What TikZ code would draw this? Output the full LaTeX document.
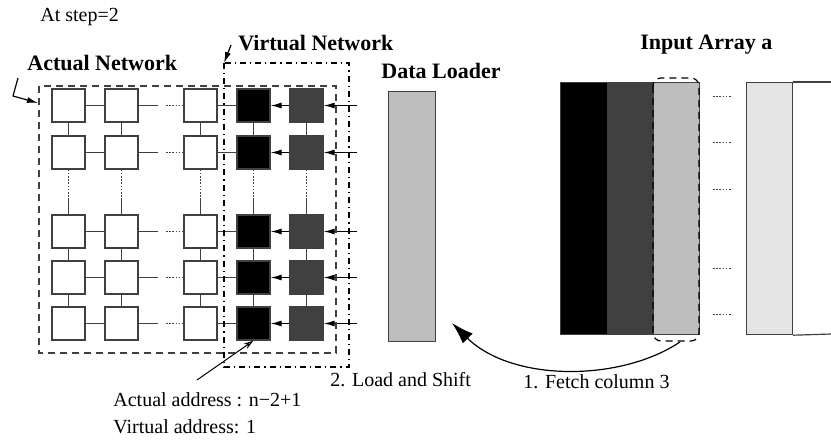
\documentclass[tikz,border=0pt]{standalone}
\usepackage{fontspec}
\setmainfont{Liberation Serif}
\usetikzlibrary{arrows.meta}
\definecolor{edge}{HTML}{404040}
\definecolor{dgray}{HTML}{404040}
\definecolor{mgray}{HTML}{BEBEBE}
\definecolor{lgray}{HTML}{E4E4E4}
\begin{document}
\begin{tikzpicture}[x=0.5pt,y=-0.5pt,
  cell/.style={draw=edge,line width=0.6pt,minimum size=16.5pt,inner sep=0pt},
  wcell/.style={cell,fill=white},
  bcell/.style={cell,fill=black},
  gcell/.style={cell,fill=dgray},
  link/.style={draw=edge,line width=0.6pt},
  dlink/.style={draw=edge,line width=0.5pt,dash pattern=on 0.8pt off 0.8pt},
  arr/.style={draw=black,line width=0.6pt,-{Latex[length=5.5pt,width=3pt]}},
  lbl/.style={anchor=west,inner sep=0pt,font=\fontsize{10}{12}\selectfont},
  blbl/.style={anchor=west,inner sep=0pt,font=\fontsize{11}{13}\selectfont\bfseries},
  colbox/.style={draw=edge,line width=0.6pt}
]
\useasboundingbox (0,0) rectangle (831,440);
% grid
\foreach \r/\y in {1/105.5,2/152.5,3/231.5,4/277.5,5/323.5}{
  \node[wcell] (s\r-1) at (68.5,\y) {};
  \node[wcell] (s\r-2) at (121.5,\y) {};
  \node[wcell] (s\r-3) at (200.5,\y) {};
  \node[bcell] (s\r-4) at (253.5,\y) {};
  \node[gcell] (s\r-5) at (306.5,\y) {};
  \coordinate (h\r a) at (158,\y);
  \coordinate (h\r b) at (166,\y);
  \coordinate (in\r) at (357,\y);
  \draw[link] (s\r-1) -- (s\r-2);
  \draw[link] (s\r-2.east) -- (h\r a);
  \draw[dlink] (h\r b) -- (s\r-3.west);
  \draw[link] (s\r-3) -- (s\r-4);
  \draw[arr] (s\r-5) -- (s\r-4);
  \draw[arr] (in\r) -- (s\r-5);
}
\foreach \c/\x in {1/68.5,2/121.5,3/200.5,4/253.5,5/306.5}{
  \coordinate (v\c) at (\x,200);
  \draw[link] (s1-\c) -- (s2-\c);
  \draw[dlink] (s2-\c.south) -- (v\c);
  \draw[link] (v\c) -- (s3-\c.north);
  \draw[link] (s3-\c) -- (s4-\c);
  \draw[link] (s4-\c) -- (s5-\c);
}
% network boxes
\draw[edge,line width=0.6pt,dash pattern=on 3.5pt off 2.5pt] (39,86) rectangle (336,353);
\draw[black,line width=0.6pt,dash pattern=on 3pt off 2pt on 0.6pt off 2pt] (224,63) rectangle (349,367);
\coordinate (anbox) at (38,103);
\coordinate (vnbox) at (224,63);
% labels
\node[lbl] (step) at (40,17) {At step=2};
\node[blbl] (vn) at (238,43) {Virtual Network};
\node[blbl] (an) at (27,63) {Actual Network};
\node[blbl] (dl) at (381,71) {Data Loader};
\node[blbl] (ia) at (640,45) {Input Array a};
\node[lbl] (ls) at (330,380) {2. Load and Shift};
\node[lbl] (fc) at (523,382) {1. Fetch column 3};
\node[lbl] (aa) at (113,400) {Actual address : n−2+1};
\node[lbl] (va) at (113,427) {Virtual address: 1};
% label arrows
\coordinate (anA) at (18,78);
\coordinate (anB) at (13,96);
\draw[arr] (anA) -- (anB) -- (anbox);
\coordinate (vnA) at (231,45);
\draw[arr] (vnA) -- (vnbox);
\coordinate (aaA) at (197,380);
\draw[black,line width=0.5pt,-{Stealth[length=5pt,width=3pt,open]}] (aaA) -- (s5-4.south);
% data loader
\node[draw=edge,fill=mgray,line width=0.6pt,minimum width=23.5pt,minimum height=125pt,inner sep=0pt,anchor=north west] (load) at (388,91) {};
% input array
\node[fill=black,draw=edge,line width=0.6pt,minimum width=23.5pt,minimum height=126pt,inner sep=0pt,anchor=north west] (c1) at (560,82) {};
\node[fill=dgray,draw=edge,line width=0.6pt,minimum width=23pt,minimum height=126pt,inner sep=0pt,anchor=north west] (c2) at (607,82) {};
\node[fill=mgray,draw=edge,line width=0.6pt,minimum width=23pt,minimum height=126pt,inner sep=0pt,anchor=north west] (c3) at (653,82) {};
\node[fill=lgray,draw=edge,line width=0.6pt,minimum width=23pt,minimum height=126pt,inner sep=0pt,anchor=north west] (c4) at (746,82) {};
\coordinate (ctop) at (831,82);
\coordinate (cbot) at (831,334);
\draw[colbox] (c4.north east) -- (ctop);
\draw[colbox] (c4.south east) -- (cbot);
\foreach \y in {96,142,189,268,314}{
  \draw[edge,line width=0.5pt,dash pattern=on 0.8pt off 0.8pt] (713,\y) -- (732,\y);
}
\draw[black,line width=0.6pt,dash pattern=on 3.5pt off 2.5pt,rounded corners=4pt] (653,78) rectangle (699,341);
% fetch arrow
\coordinate (fs) at (680,342);
\coordinate (ft) at (452,323);
\draw[black,line width=0.6pt,-{Latex[length=11pt,width=7pt]}] (fs) .. controls (620,382) and (512,382) .. (ft);
\end{tikzpicture}
\end{document}
